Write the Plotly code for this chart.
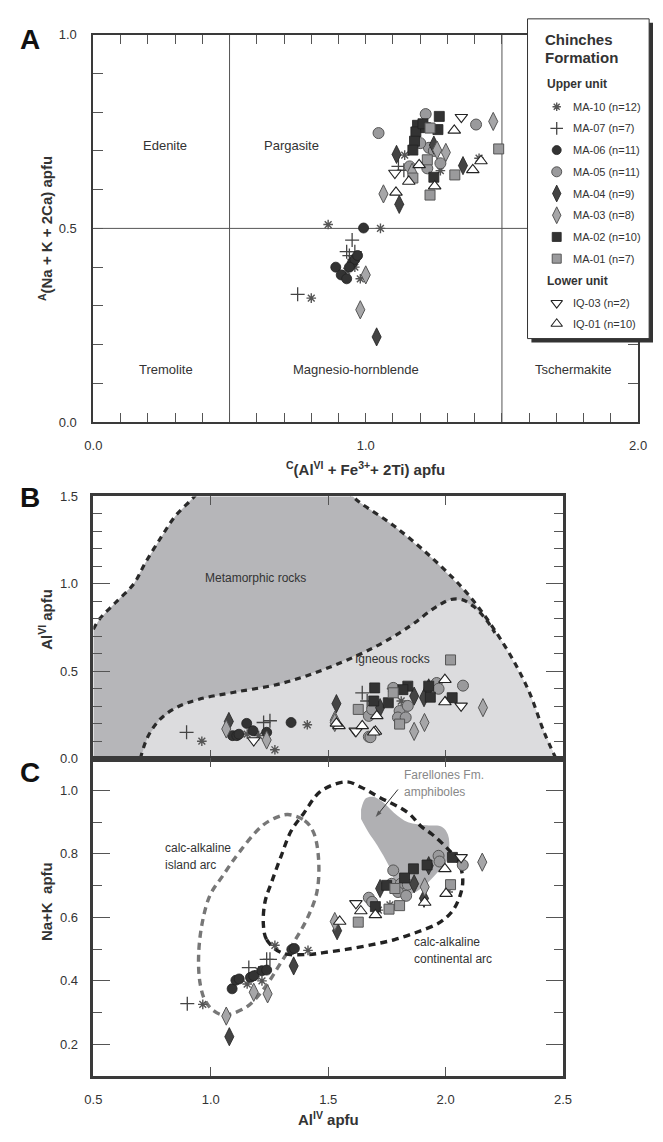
import plotly.graph_objects as go

W, H = 663, 1142
def px(x): return x / W
def py(y): return 1 - y / H

FONT = "Liberation Sans, Arial, Helvetica, sans-serif"
TXT = "#333333"

# ---------------- data ----------------
samples = ["MA-10", "MA-07", "MA-06", "MA-05", "MA-04", "MA-03", "MA-02", "MA-01", "IQ-03", "IQ-01"]
legend_labels = ["MA-10 (n=12)", "MA-07 (n=7)", "MA-06 (n=11)", "MA-05 (n=11)", "MA-04 (n=9)",
                 "MA-03 (n=8)", "MA-02 (n=10)", "MA-01 (n=7)", "IQ-03 (n=2)", "IQ-01 (n=10)"]

# Panel A: C(AlVI+Fe3+ +2Ti) vs A(Na+K+2Ca)
A_x = {
    "MA-10": [0.862, 1.054, 1.143, 1.416, 1.274, 0.80, 0.96, 0.93, 0.98, 0.95],
    "MA-07": [0.75, 0.93, 0.95, 0.94, 0.96, 1.12, 1.14],
    "MA-06": [0.992, 0.89, 0.91, 0.93, 0.95, 0.96, 0.97, 0.94],
    "MA-05": [1.220, 1.047, 1.405, 1.274, 1.161, 1.232, 1.226, 1.25, 1.20],
    "MA-04": [1.113, 1.250, 1.357, 1.123, 1.04],
    "MA-03": [1.468, 1.262, 1.294, 1.065, 1.170, 0.98, 1.00],
    "MA-02": [1.270, 1.190, 1.265, 1.184, 1.179, 1.173, 1.250, 1.22, 1.21],
    "MA-01": [1.236, 1.488, 1.226, 1.327, 1.236, 1.173],
    "IQ-03": [1.351, 1.107],
    "IQ-01": [1.325, 1.423, 1.393, 1.253, 1.111, 1.158, 1.196],
}
A_y = {
    "MA-10": [0.510, 0.500, 0.689, 0.681, 0.649, 0.32, 0.40, 0.39, 0.37, 0.42],
    "MA-07": [0.33, 0.44, 0.47, 0.43, 0.44, 0.66, 0.65],
    "MA-06": [0.501, 0.40, 0.38, 0.37, 0.41, 0.42, 0.43, 0.40],
    "MA-05": [0.795, 0.746, 0.768, 0.668, 0.660, 0.708, 0.655, 0.70, 0.72],
    "MA-04": [0.691, 0.715, 0.662, 0.562, 0.22],
    "MA-03": [0.776, 0.702, 0.696, 0.589, 0.645, 0.29, 0.38],
    "MA-02": [0.789, 0.766, 0.755, 0.749, 0.725, 0.702, 0.632, 0.76, 0.77],
    "MA-01": [0.759, 0.705, 0.677, 0.638, 0.586, 0.630],
    "IQ-03": [0.787, 0.643],
    "IQ-01": [0.753, 0.674, 0.651, 0.609, 0.593, 0.621, 0.664],
}

# Panel B: AlIV vs AlVI
B_x = {
    "MA-10": [0.962, 1.155, 1.204, 1.411, 1.273, 1.770, 1.811, 2.011],
    "MA-07": [0.897, 1.225, 1.252, 1.645, 1.666],
    "MA-06": [1.093, 1.111, 1.153, 1.238, 1.342, 1.12, 1.18],
    "MA-05": [2.074, 1.673, 1.673, 1.687, 1.777, 1.804, 1.839, 1.962, 1.970, 1.797, 1.830, 1.680],
    "MA-04": [1.077, 1.535, 1.866, 1.908, 1.928, 1.721],
    "MA-03": [1.066, 1.238, 2.159, 1.910, 1.866, 1.528, 1.528],
    "MA-02": [2.028, 1.698, 1.839, 1.928, 1.694, 1.818, 1.935, 1.756],
    "MA-01": [2.021, 1.628, 1.804, 1.777],
    "IQ-03": [1.183, 2.066, 1.615, 1.618],
    "IQ-01": [1.997, 1.997, 1.546, 1.645, 1.701, 1.707, 1.535, 1.694],
}
B_y = {
    "MA-10": [0.100, 0.141, 0.132, 0.194, 0.051, 0.401, 0.330, 0.339],
    "MA-07": [0.151, 0.207, 0.217, 0.377, 0.330],
    "MA-06": [0.132, 0.132, 0.202, 0.151, 0.207, 0.14, 0.16],
    "MA-05": [0.418, 0.126, 0.245, 0.282, 0.405, 0.273, 0.302, 0.433, 0.400, 0.236, 0.236, 0.123],
    "MA-04": [0.213, 0.315, 0.358, 0.349, 0.405, 0.292],
    "MA-03": [0.170, 0.107, 0.292, 0.207, 0.156, 0.220, 0.207],
    "MA-02": [0.349, 0.405, 0.415, 0.415, 0.330, 0.395, 0.352, 0.320],
    "MA-01": [0.565, 0.282, 0.198, 0.377],
    "IQ-03": [0.104, 0.302, 0.160, 0.156],
    "IQ-01": [0.452, 0.324, 0.188, 0.188, 0.156, 0.245, 0.202, 0.151],
}
# Panel C: AlIV vs Na+K
C_x = {
    "MA-10": [0.966, 1.273, 1.414, 1.218, 1.155, 1.204, 1.714, 2.011, 1.763, 1.190],
    "MA-07": [0.900, 1.238, 1.252, 1.162],
    "MA-06": [1.091, 1.107, 1.121, 1.169, 1.183, 1.218, 1.238, 1.345, 1.356],
    "MA-05": [1.777, 1.970, 1.974, 2.073, 1.673, 1.687, 1.770, 1.809, 1.839, 1.797, 1.832],
    "MA-04": [1.079, 1.353, 1.538, 1.721, 1.908, 1.928, 1.866],
    "MA-03": [1.066, 1.183, 1.242, 1.528, 2.156, 1.911],
    "MA-02": [2.029, 1.863, 1.921, 1.825, 1.749, 1.701],
    "MA-01": [1.628, 1.759, 1.804, 2.021, 1.784],
    "IQ-03": [1.618, 2.066],
    "IQ-01": [1.549, 1.639, 1.701, 1.911, 1.997, 2.002],
}
C_y = {
    "MA-10": [0.326, 0.512, 0.496, 0.400, 0.390, 0.432, 0.623, 0.680, 0.639, 0.415],
    "MA-07": [0.328, 0.468, 0.468, 0.442],
    "MA-06": [0.375, 0.402, 0.406, 0.411, 0.416, 0.432, 0.434, 0.499, 0.502],
    "MA-05": [0.748, 0.794, 0.776, 0.765, 0.662, 0.649, 0.706, 0.706, 0.703, 0.680, 0.668],
    "MA-04": [0.224, 0.447, 0.558, 0.691, 0.660, 0.763, 0.706],
    "MA-03": [0.289, 0.364, 0.359, 0.587, 0.774, 0.696],
    "MA-02": [0.789, 0.753, 0.765, 0.724, 0.701, 0.634],
    "MA-01": [0.585, 0.626, 0.637, 0.703, 0.691],
    "IQ-03": [0.644, 0.789],
    "IQ-01": [0.587, 0.620, 0.608, 0.647, 0.753, 0.675],
}

# Field outlines
B_meta_left_x = [0.50, 0.527, 0.596, 0.672, 0.721, 0.79, 0.85, 0.93, 0.96]
B_meta_left_y = [0.74, 0.80, 0.895, 1.00, 1.12, 1.27, 1.39, 1.50, 1.56]
B_outer_right_x = [1.58, 1.632, 1.784, 1.949, 2.101, 2.25, 2.35, 2.42, 2.47]
B_outer_right_y = [1.53, 1.469, 1.328, 1.14, 0.932, 0.65, 0.40, 0.15, 0.0]
B_inner_x = [0.70, 0.73, 0.78, 0.85, 0.95, 1.10, 1.30, 1.50, 1.70, 1.85, 1.95, 2.02, 2.07, 2.12, 2.17, 2.21]
B_inner_y = [0.00, 0.12, 0.22, 0.29, 0.34, 0.38, 0.43, 0.52, 0.64, 0.76, 0.86, 0.91, 0.91, 0.87, 0.80, 0.72]

C_island_x = [1.328, 1.40, 1.438, 1.459, 1.452, 1.411, 1.356, 1.294, 1.231, 1.162, 1.093, 1.052, 1.010, 0.976,
              0.955, 0.948, 0.962, 0.997, 1.052, 1.121, 1.218, 1.28, 1.328]
C_island_y = [0.924, 0.905, 0.867, 0.784, 0.680, 0.597, 0.525, 0.452, 0.380, 0.323, 0.297, 0.292, 0.307, 0.338,
              0.390, 0.473, 0.576, 0.670, 0.732, 0.805, 0.888, 0.915, 0.924]
C_cont_x = [1.224, 1.238, 1.300, 1.411, 1.480, 1.576, 1.687, 1.783, 1.880, 1.977, 2.032, 2.062, 2.073, 2.066,
            2.046, 1.997, 1.942, 1.894, 1.839, 1.714, 1.640, 1.577, 1.466, 1.397, 1.342, 1.300, 1.259, 1.231, 1.224]
C_cont_y = [0.577, 0.530, 0.489, 0.483, 0.489, 0.499, 0.514, 0.530, 0.554, 0.585, 0.623, 0.670, 0.711, 0.753,
            0.784, 0.825, 0.862, 0.888, 0.930, 0.980, 1.010, 1.027, 0.996, 0.929, 0.872, 0.794, 0.711, 0.649, 0.577]
C_far_x = [1.64, 1.66, 1.69, 1.73, 1.78, 1.84, 1.92, 1.985, 2.01, 2.015, 2.00, 1.97, 1.91, 1.85, 1.80, 1.76, 1.71, 1.67, 1.64]
C_far_y = [0.94, 0.975, 0.98, 0.965, 0.93, 0.90, 0.89, 0.885, 0.86, 0.81, 0.77, 0.745, 0.70, 0.675, 0.69, 0.76, 0.826, 0.87, 0.91]
# pointer from the "Farellones Fm." label into its field
C_arrow_x = [1.797, 1.702]
C_arrow_y = [1.003, 0.916]

# ---------------- styles ----------------
styles = {
    "MA-10": dict(symbol="asterisk-open", size=8, color="#555555", line=dict(color="#555555", width=1.4)),
    "MA-07": dict(symbol="cross-thin-open", size=10, color="#444444", line=dict(color="#444444", width=1.3)),
    "MA-06": dict(symbol="circle", size=10, color="#333333", line=dict(color="#222222", width=0.8)),
    "MA-05": dict(symbol="circle", size=11, color="#9a9a9c", line=dict(color="#555555", width=1)),
    "MA-04": dict(symbol="diamond-tall", size=13, color="#444444", line=dict(color="#222222", width=0.8)),
    "MA-03": dict(symbol="diamond-tall", size=13, color="#a6a6a8", line=dict(color="#555555", width=1)),
    "MA-02": dict(symbol="square", size=10, color="#333333", line=dict(color="#222222", width=0.8)),
    "MA-01": dict(symbol="square", size=10, color="#9a9a9c", line=dict(color="#555555", width=1)),
    "IQ-03": dict(symbol="triangle-down", size=11, color="white", line=dict(color="#222222", width=1.1)),
    "IQ-01": dict(symbol="triangle-up", size=11, color="white", line=dict(color="#222222", width=1.1)),
}

fig = go.Figure()

# ---- Panel B fields ----
meta_x = [0.5] + B_meta_left_x + [0.96, 1.58] + B_outer_right_x + [0.5]
meta_y = [0.0] + B_meta_left_y + [1.6, 1.6] + B_outer_right_y + [0.0]
fig.add_trace(go.Scatter(x=meta_x, y=meta_y, xaxis="x2", yaxis="y2", mode="lines", fill="toself",
                         fillcolor="#b6b6b9", line=dict(width=0), hoverinfo="skip", showlegend=False))
ig_x = B_inner_x + [2.25, 2.35, 2.42, 2.47, 0.70]
ig_y = B_inner_y + [0.65, 0.40, 0.15, 0.0, 0.0]
fig.add_trace(go.Scatter(x=ig_x, y=ig_y, xaxis="x2", yaxis="y2", mode="lines", fill="toself",
                         fillcolor="#dcdcde", line=dict(width=0), hoverinfo="skip", showlegend=False))
for xs, ys in [(B_meta_left_x, B_meta_left_y), (B_outer_right_x, B_outer_right_y), (B_inner_x, B_inner_y)]:
    fig.add_trace(go.Scatter(x=xs, y=ys, xaxis="x2", yaxis="y2", mode="lines",
                             line=dict(color="#2a2a2a", width=3.2, dash="6px,5px", shape="spline"),
                             hoverinfo="skip", showlegend=False))

# ---- Panel C fields ----
fig.add_trace(go.Scatter(x=C_far_x, y=C_far_y, xaxis="x3", yaxis="y3", mode="lines", fill="toself",
                         fillcolor="#b0b0b3", line=dict(width=0, shape="spline"), hoverinfo="skip", showlegend=False))
fig.add_trace(go.Scatter(x=C_island_x, y=C_island_y, xaxis="x3", yaxis="y3", mode="lines",
                         line=dict(color="#777777", width=3.4, dash="7px,5px", shape="spline"),
                         hoverinfo="skip", showlegend=False))
fig.add_trace(go.Scatter(x=C_cont_x, y=C_cont_y, xaxis="x3", yaxis="y3", mode="lines",
                         line=dict(color="#222222", width=3.4, dash="7px,5px", shape="spline"),
                         hoverinfo="skip", showlegend=False))
fig.add_trace(go.Scatter(x=C_arrow_x, y=C_arrow_y, xaxis="x3", yaxis="y3", mode="lines+markers",
                         line=dict(color="#333333", width=1),
                         marker=dict(symbol=["circle", "arrow"], size=[0, 7], angleref="previous",
                                     color="#333333", line=dict(width=0)),
                         hoverinfo="skip", showlegend=False))

# ---- Panel A reference lines ----
fig.add_trace(go.Scatter(x=[0.5, 0.5, None, 1.5, 1.5, None, 0, 2], y=[0, 1, None, 0, 1, None, 0.5, 0.5],
                         xaxis="x", yaxis="y", mode="lines", line=dict(color="#555555", width=1),
                         hoverinfo="skip", showlegend=False))

# ---- data points ----
for s in samples:
    st = styles[s]
    mk = dict(symbol=st["symbol"], size=st["size"], color=st["color"], line=st["line"])
    fig.add_trace(go.Scatter(x=A_x[s], y=A_y[s], xaxis="x", yaxis="y", mode="markers", marker=mk,
                             name=s, showlegend=False))
    fig.add_trace(go.Scatter(x=B_x[s], y=B_y[s], xaxis="x2", yaxis="y2", mode="markers", marker=mk,
                             name=s, showlegend=False))
    fig.add_trace(go.Scatter(x=C_x[s], y=C_y[s], xaxis="x3", yaxis="y3", mode="markers", marker=mk,
                             name=s, showlegend=False))

# ---- legend (drawn in its own pixel-space subplot) ----
LX0, LX1, LY0, LY1 = 533, 658, 12, 336
fig.add_trace(go.Scatter(x=[LX0 + 4, LX1 + 4, LX1 + 4, LX0 + 4, LX0 + 4], y=[LY0 + 4, LY0 + 4, LY1 + 4, LY1 + 4, LY0 + 4],
                         xaxis="x4", yaxis="y4", mode="lines", fill="toself", fillcolor="#333333",
                         line=dict(width=0), hoverinfo="skip", showlegend=False))
fig.add_trace(go.Scatter(x=[LX0, LX1, LX1, LX0, LX0], y=[LY0, LY0, LY1, LY1, LY0],
                         xaxis="x4", yaxis="y4", mode="lines", fill="toself", fillcolor="white",
                         line=dict(color="#333333", width=1), hoverinfo="skip", showlegend=False))
leg_rows = [101, 123, 145, 167, 189, 211, 233, 255, 300, 321]
for s, lab, ry in zip(samples, legend_labels, leg_rows):
    st = styles[s]
    mk = dict(symbol=st["symbol"], size=st["size"] - 1, color=st["color"], line=st["line"])
    fig.add_trace(go.Scatter(x=[563], y=[ry], xaxis="x4", yaxis="y4", mode="markers", marker=mk,
                             hoverinfo="skip", showlegend=False))

annotations = []
def ann(text, x, y, size=13, color=TXT, bold=False, xanchor="center", yanchor="middle", angle=0, xref="paper", yref="paper"):
    t = f"<b>{text}</b>" if bold else text
    annotations.append(dict(text=t, x=x, y=y, xref=xref, yref=yref, showarrow=False,
                            font=dict(family=FONT, size=size, color=color),
                            xanchor=xanchor, yanchor=yanchor, textangle=angle))

ann("Chinches", 549, 33, size=15, bold=True, xanchor="left", xref="x4", yref="y4")
ann("Formation", 549, 51, size=15, bold=True, xanchor="left", xref="x4", yref="y4")
ann("Upper unit", 551, 78, size=12, bold=True, xanchor="left", xref="x4", yref="y4")
ann("Lower unit", 551, 278, size=12, bold=True, xanchor="left", xref="x4", yref="y4")
for lab, ry in zip(legend_labels, leg_rows):
    ann(lab, 578, ry, size=11, xanchor="left", xref="x4", yref="y4")

# panel letters
ann("A", px(22), py(33), size=28, color="#111111", bold=True)
ann("B", px(22), py(497), size=28, color="#111111", bold=True)
ann("C", px(22), py(776), size=28, color="#111111", bold=True)

# panel A field names
for t, x, y in [("Edenite", 160, 140), ("Pargasite", 290, 140), ("Tremolite", 161, 367),
                ("Magnesio-hornblende", 357, 367), ("Tschermakite", 580, 367)]:
    ann(t, px(x), py(y), size=13)

# axis titles
ann("<sup>A</sup>(Na + K + 2Ca) apfu", px(37), py(224), size=15, bold=True, angle=-90)
ann("<sup>C</sup>(Al<sup>VI</sup> + Fe<sup>3+</sup>+ 2Ti) apfu", px(366), py(468), size=15, bold=True)
ann("Al<sup>VI</sup> apfu", px(38), py(620), size=15, bold=True, angle=-90)
ann("Na+K  apfu", px(38), py(906), size=15, bold=True, angle=-90)
ann("Al<sup>IV</sup> apfu", px(328), py(1126), size=15, bold=True)

# panel B / C labels
ann("Metamorphic rocks", px(253), py(579), size=12)
ann("Igneous rocks", px(394), py(661), size=12)
ann("Farellones Fm.", px(404), py(778), size=12, color="#888888", xanchor="left")
ann("amphiboles", px(404), py(795), size=12, color="#888888", xanchor="left")
ann("calc-alkaline", px(158), py(852), size=12, xanchor="left")
ann("island arc", px(158), py(869), size=12, xanchor="left")
ann("calc-alkaline", px(414), py(947), size=12, xanchor="left")
ann("continental arc", px(414), py(965), size=12, xanchor="left")

axis_common = dict(showline=True, linecolor="#3a3a3a", linewidth=2, mirror="ticks", showgrid=False,
                   zeroline=False, ticks="inside", tickcolor="#555555", tickwidth=1,
                   tickfont=dict(family=FONT, size=13, color=TXT))

fig.update_layout(
    width=W, height=H, margin=dict(l=0, r=0, t=0, b=0),
    paper_bgcolor="white", plot_bgcolor="rgba(0,0,0,0)", showlegend=False,
    font=dict(family=FONT, color=TXT),
    xaxis=dict(axis_common, domain=[px(86.7), px(646.7)], range=[0, 2], anchor="y",
               tickvals=[0, 1, 2], ticktext=["0.0", "1.0", "2.0"], ticklen=9, ticklabelstandoff=10,
               minor=dict(dtick=0.1, ticks="inside", ticklen=9, tickcolor="#555555")),
    yaxis=dict(axis_common, domain=[py(420.7), py(28)], range=[0, 1], anchor="x",
               tickvals=[0, 0.5, 1], ticktext=["0.0", "0.5", "1.0"], ticklen=10, ticklabelstandoff=12,
               minor=dict(dtick=0.1, ticks="inside", ticklen=10, tickcolor="#555555")),
    xaxis2=dict(axis_common, domain=[px(86.7), px(569.5)], range=[0.5, 2.5], anchor="y2",
                tickvals=[1.0, 1.5, 2.0], showticklabels=False, ticklen=9, linewidth=2.5),
    yaxis2=dict(axis_common, domain=[py(761.7), py(496)], range=[0, 1.5], anchor="x2",
                tickvals=[0, 0.5, 1.0, 1.5], ticktext=["0.0", "0.5", "1.0", "1.5"], ticklen=17,
                ticklabelstandoff=10, linewidth=2.5,
                minor=dict(dtick=0.1, ticks="inside", ticklen=9, tickcolor="#555555")),
    xaxis3=dict(axis_common, domain=[px(86.7), px(569.5)], range=[0.5, 2.5], anchor="y3",
                tickvals=[0.5, 1.0, 1.5, 2.0, 2.5], ticktext=["0.5", "1.0", "1.5", "2.0", "2.5"],
                ticklen=9, ticklabelstandoff=10, linewidth=2.5),
    yaxis3=dict(axis_common, domain=[py(1083.3), py(761.7)], range=[0.1, 1.1], anchor="x3",
                tickvals=[0.2, 0.4, 0.6, 0.8, 1.0], ticktext=["0.2", "0.4", "0.6", "0.8", "1.0"],
                ticklen=17, ticklabelstandoff=10, linewidth=2.5,
                minor=dict(dtick=0.1, ticks="inside", ticklen=9, tickcolor="#555555")),
    xaxis4=dict(domain=[px(LX0 - 1), px(662)], range=[LX0 - 1, 662], anchor="y4", visible=False, fixedrange=True),
    yaxis4=dict(domain=[py(341), py(11)], range=[341, 11], anchor="x4", visible=False, fixedrange=True),
    annotations=annotations,
)

fig.write_html("out.html")
